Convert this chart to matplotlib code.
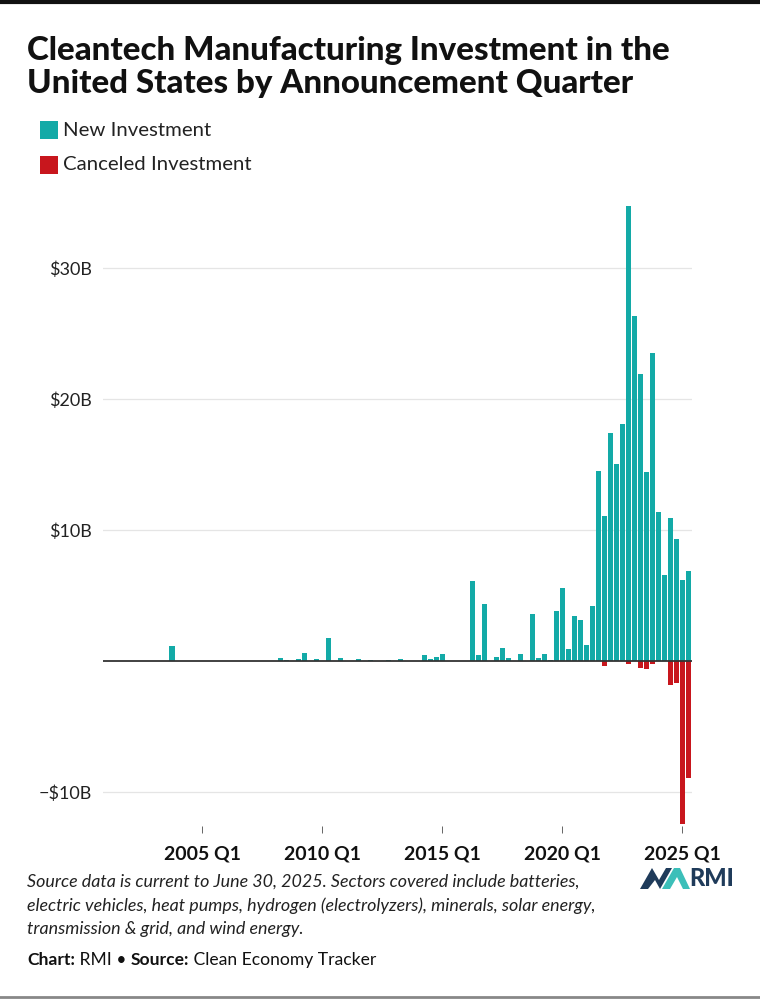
import matplotlib.pyplot as plt
from matplotlib.patches import Polygon, Rectangle
from matplotlib.lines import Line2D

plt.rcParams['font.family'] = ['Lato', 'DejaVu Sans']

# quarters 2001 Q1 .. 2025 Q2
years = list(range(2001, 2026))
quarters = [f'{y} Q{q}' for y in years for q in range(1, 5)][:98]

# new investment, $B, four quarters per row
new_investment = [
    0, 0, 0, 0,            # 2001
    0, 0, 0, 0,            # 2002
    0, 0, 0, 1.15,         # 2003
    0, 0, 0, 0,            # 2004
    0, 0, 0, 0,            # 2005
    0, 0, 0, 0,            # 2006
    0, 0, 0, 0,            # 2007
    0, 0.2, 0.05, 0,       # 2008
    0.12, 0.6, 0, 0.15,    # 2009
    0, 1.75, 0, 0.25,      # 2010
    0, 0, 0.15, 0,         # 2011
    0.08, 0, 0, 0.1,       # 2012
    0, 0.17, 0, 0,         # 2013
    0, 0.45, 0.15, 0.3,    # 2014
    0.5, 0, 0, 0,          # 2015
    0, 6.1, 0.45, 4.35,    # 2016
    0, 0.3, 1.0, 0.2,      # 2017
    0, 0.55, 0, 3.55,      # 2018
    0.2, 0.5, 0.1, 3.8,    # 2019
    5.6, 0.9, 3.4, 3.1,    # 2020
    1.2, 4.2, 14.5, 11.1,  # 2021
    17.4, 15.0, 18.1, 34.7,  # 2022
    26.3, 21.9, 14.4, 23.5,  # 2023
    11.4, 6.6, 10.9, 9.3,    # 2024
    6.2, 6.9,                # 2025
]

# canceled investment, $B (negative)
canceled_investment = [0] * 83 + [
    -0.4, 0, 0, 0,         # 2021 Q4 .. 2022 Q3
    -0.25, 0, -0.5, -0.65, # 2022 Q4 .. 2023 Q3
    -0.2, 0, 0, -1.8,      # 2023 Q4 .. 2024 Q3
    -1.65, -12.45, -8.95,  # 2024 Q4 .. 2025 Q2
]

tick_labels = ['2005 Q1', '2010 Q1', '2015 Q1', '2020 Q1', '2025 Q1']
y_ticks = [-10, 10, 20, 30]
y_tick_labels = ['\u2212$10B', '$10B', '$20B', '$30B']

TEAL = '#13aaa7'
RED = '#c8161d'

fig = plt.figure(figsize=(7.6, 10), dpi=100)
W, H = 760, 1000


def fx(px):
    return px / W


def fy(py):
    return 1 - py / H


ax = fig.add_axes([fx(103), fy(826), fx(692) - fx(103), fy(202.5) - fy(826)])
x = list(range(len(quarters)))
ax.bar(x, new_investment, width=0.87, color=TEAL, linewidth=0)
ax.bar(x, canceled_investment, width=0.87, color=RED, linewidth=0)

ax.set_xlim(-0.5, len(quarters) - 0.4)
ax.set_ylim(-12.6, 35)
for v in y_ticks:
    ax.axhline(v, color='#e5e5e5', lw=0.9, zorder=0)
ax.axhline(0, color='#333333', lw=1.3, zorder=3)

for s in ax.spines.values():
    s.set_visible(False)
ax.set_yticks(y_ticks)
ax.set_yticklabels(y_tick_labels, fontsize=13, color='#222222')
ax.tick_params(axis='y', length=0, pad=8)
ax.set_xticks([quarters.index(t) for t in tick_labels])
ax.set_xticklabels(tick_labels, fontsize=14, fontweight='bold', color='#111111')
ax.tick_params(axis='x', length=5, width=0.7, color='#666666', pad=9)

# title
fig.text(fx(27), fy(60), 'Cleantech Manufacturing Investment in the',
         fontsize=23.8, fontweight='black', color='#111111', va='baseline')
fig.text(fx(27), fy(93), 'United States by Announcement Quarter',
         fontsize=23.8, fontweight='black', color='#111111', va='baseline')

# legend
for py, lab, col in [(130, 'New Investment', TEAL), (165, 'Canceled Investment', RED)]:
    fig.add_artist(Rectangle((fx(40), fy(py + 9)), fx(18), fy(py - 9) - fy(py + 9),
                             transform=fig.transFigure, color=col, lw=0))
    fig.text(fx(63), fy(py), lab, fontsize=14.7, color='#222222', va='center')

# notes
notes = ['Source data is current to June 30, 2025. Sectors covered include batteries,',
         'electric vehicles, heat pumps, hydrogen (electrolyzers), minerals, solar energy,',
         'transmission & grid, and wind energy.']
for i, line in enumerate(notes):
    fig.text(fx(27), fy(882 + 23.5 * i), line, fontsize=12.9, style='italic',
             color='#222222', va='center')

t = fig.text(fx(27), fy(960), 'Chart:', fontsize=12.6, fontweight='bold', color='#111111', va='center')
fig.canvas.draw()
parts = [(' RMI \u2022 ', 'normal'), ('Source:', 'bold'), (' Clean Economy Tracker', 'normal')]
r = fig.canvas.get_renderer()
x0 = t.get_window_extent(r).x1
for txt, wt in parts:
    tt = fig.text(x0 / W, fy(960), txt, fontsize=12.6, fontweight=wt, color='#111111', va='center')
    x0 = tt.get_window_extent(r).x1

# RMI logo
navy = '#1f3b5a'
fig.add_artist(Polygon([(fx(640), fy(889)), (fx(652), fy(868)), (fx(659), fy(880)),
                        (fx(666), fy(868)), (fx(672), fy(868)), (fx(660), fy(889)),
                        (fx(655), fy(880)), (fx(648), fy(889))],
                       closed=True, transform=fig.transFigure, color=navy, lw=0))
fig.add_artist(Polygon([(fx(662), fy(889)), (fx(674), fy(868)), (fx(680), fy(868)),
                        (fx(690), fy(889)), (fx(683), fy(889)), (fx(677), fy(877)),
                        (fx(670), fy(889))],
                       closed=True, transform=fig.transFigure, color='#3cbfb9', lw=0))
fig.text(fx(689), fy(879), 'RMI', fontsize=17, fontweight='black', color=navy, va='center')

# frame lines
fig.add_artist(Line2D([0, 1], [fy(1.5), fy(1.5)], transform=fig.transFigure, color='#111111', lw=3))
fig.add_artist(Line2D([0, 1], [fy(997), fy(997)], transform=fig.transFigure, color='#888888', lw=2))

fig.savefig('out.png', dpi=100)
